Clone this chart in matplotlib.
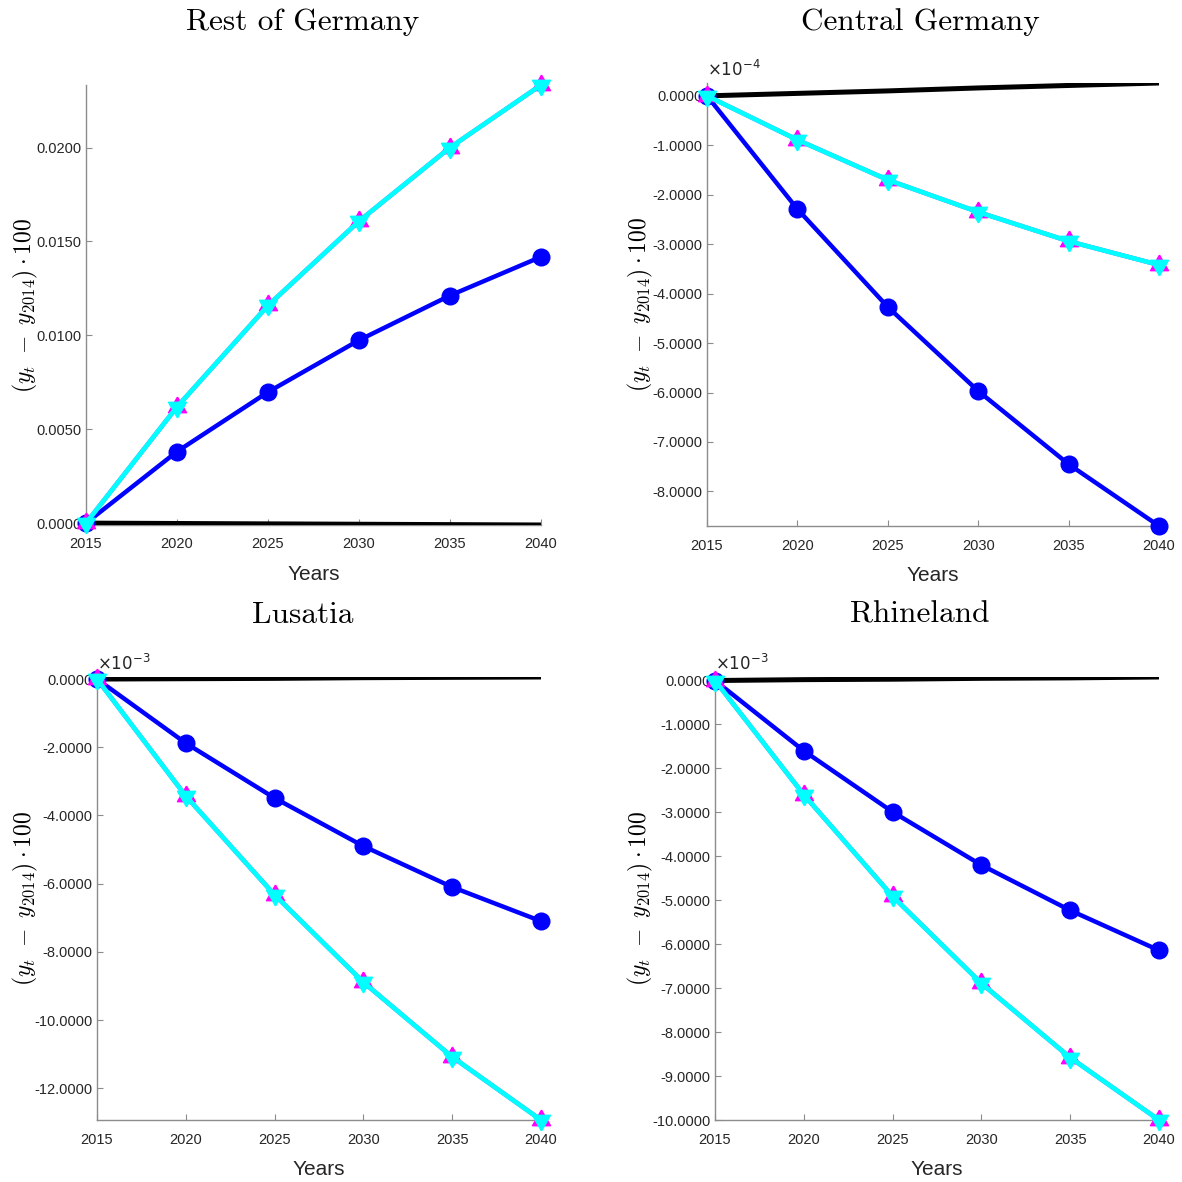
"""
Отклонения от 2014 года по регионам, 2015-2040.
"""

import matplotlib

matplotlib.use("Agg")
import matplotlib.pyplot as plt

years = [2015, 2020, 2025, 2030, 2035, 2040]

regions = ["Rest of Germany", "Central Germany", "Lusatia", "Rhineland"]
exponents = [0, -4, -3, -3]

# значения в единицах оси (с учётом множителя 10^exp)
black_rest = [0.0, -0.00002, -0.00004, -0.00006, -0.00008, -0.0001]
blue_rest = [0.0, 0.00381, 0.00698, 0.00974, 0.01212, 0.01418]
magenta_rest = [0.0, 0.00619, 0.01159, 0.01608, 0.0200, 0.02333]
cyan_rest = [0.0, 0.00619, 0.01159, 0.01608, 0.0200, 0.02333]

black_central = [0.0, 0.05, 0.10, 0.16, 0.21, 0.26]
blue_central = [0.0, -2.29, -4.27, -5.97, -7.45, -8.70]
magenta_central = [0.0, -0.89, -1.70, -2.35, -2.94, -3.42]
cyan_central = [0.0, -0.89, -1.70, -2.35, -2.94, -3.42]

black_lusatia = [0.0, 0.01, 0.02, 0.04, 0.05, 0.06]
blue_lusatia = [0.0, -1.88, -3.49, -4.90, -6.10, -7.10]
magenta_lusatia = [0.0, -3.43, -6.33, -8.89, -11.08, -12.93]
cyan_lusatia = [0.0, -3.43, -6.33, -8.89, -11.08, -12.93]

black_rhine = [0.0, 0.02, 0.03, 0.05, 0.06, 0.08]
blue_rhine = [0.0, -1.60, -2.99, -4.20, -5.23, -6.14]
magenta_rhine = [0.0, -2.60, -4.91, -6.89, -8.58, -10.00]
cyan_rhine = [0.0, -2.60, -4.91, -6.89, -8.58, -10.00]

series = [
    (black_rest, blue_rest, magenta_rest, cyan_rest),
    (black_central, blue_central, magenta_central, cyan_central),
    (black_lusatia, blue_lusatia, magenta_lusatia, cyan_lusatia),
    (black_rhine, blue_rhine, magenta_rhine, cyan_rhine),
]

yticks = [
    [0.0, 0.005, 0.010, 0.015, 0.020],
    [0, -1, -2, -3, -4, -5, -6, -7, -8],
    [0, -2, -4, -6, -8, -10, -12],
    [0, -1, -2, -3, -4, -5, -6, -7, -8, -9, -10],
]

plt.rcParams["font.family"] = ["Liberation Sans", "DejaVu Sans"]
plt.rcParams["mathtext.fontset"] = "cm"

# треугольники с центром в центроиде, чтобы вместе давали звезду
tri_up = [(0, 1), (-0.866, -0.5), (0.866, -0.5), (0, 1)]
tri_down = [(0, -1), (-0.866, 0.5), (0.866, 0.5), (0, -1)]

W = 1182.0
# положения осей в пикселях: левый край, правый, верх, низ
boxes = [
    (86, 541, 85, 525),
    (707, 1159, 83, 526),
    (97, 541, 677, 1120),
    (715, 1159, 677, 1120),
]
title_pos = [(303, 22), (920, 22), (303, 615), (920, 615)]
ylabel_x = [25, 640, 25, 640]

fig = plt.figure(figsize=(11.82, 11.82), dpi=100)

for i, region in enumerate(regions):
    l, r, t, b = boxes[i]
    ax = fig.add_axes([l / W, 1 - b / W, (r - l) / W, (b - t) / W])
    black, blue, magenta, cyan = series[i]

    ax.plot(years, black, color="black", linewidth=3.6, zorder=3)
    ax.plot(years, blue, color="#0000ff", linewidth=3.2, marker="o",
            markersize=12, zorder=4, clip_on=False)
    ax.plot(years, magenta, color="#ff00ff", linewidth=3.2, marker=tri_up,
            markersize=15, zorder=5, clip_on=False)
    ax.plot(years, cyan, color="#00ffff", linewidth=3.4, marker=tri_down,
            markersize=15, zorder=6, clip_on=False)

    lo = min(min(s) for s in series[i])
    hi = max(max(s) for s in series[i])
    ax.set_xlim(2015, 2040)
    ax.set_ylim(lo, hi)
    ax.set_xticks(years)
    ax.set_yticks(yticks[i])
    ax.set_yticklabels([f"{v:.4f}" for v in yticks[i]])

    for side in ("top", "right"):
        ax.spines[side].set_visible(False)
    for side in ("left", "bottom"):
        ax.spines[side].set_color("#8c8c8c")
        ax.spines[side].set_linewidth(1.0)
    ax.tick_params(direction="in", length=4, color="#8c8c8c",
                   labelsize=10.5, labelcolor="#262626")
    ax.tick_params(axis="x", pad=9)
    ax.set_facecolor("none")

    ax.set_xlabel("Years", fontsize=15, color="#262626", labelpad=10)

    if exponents[i] != 0:
        ax.text(0.0, 1.008, rf"$\times10^{{{exponents[i]}}}$",
                transform=ax.transAxes, fontsize=12, color="#262626",
                math_fontfamily="dejavusans", ha="left", va="bottom")

    tx, ty = title_pos[i]
    fig.text(tx / W, 1 - ty / W, region, fontfamily="cmr10", fontsize=22.5,
             ha="center", va="center")
    fig.text(ylabel_x[i] / W, 1 - ((t + b) / 2) / W,
             r"$(y_t\ -\ y_{2014})\cdot100$", fontsize=17,
             rotation=90, ha="center", va="center")

fig.savefig("out.png", dpi=100)
plt.close("all")
